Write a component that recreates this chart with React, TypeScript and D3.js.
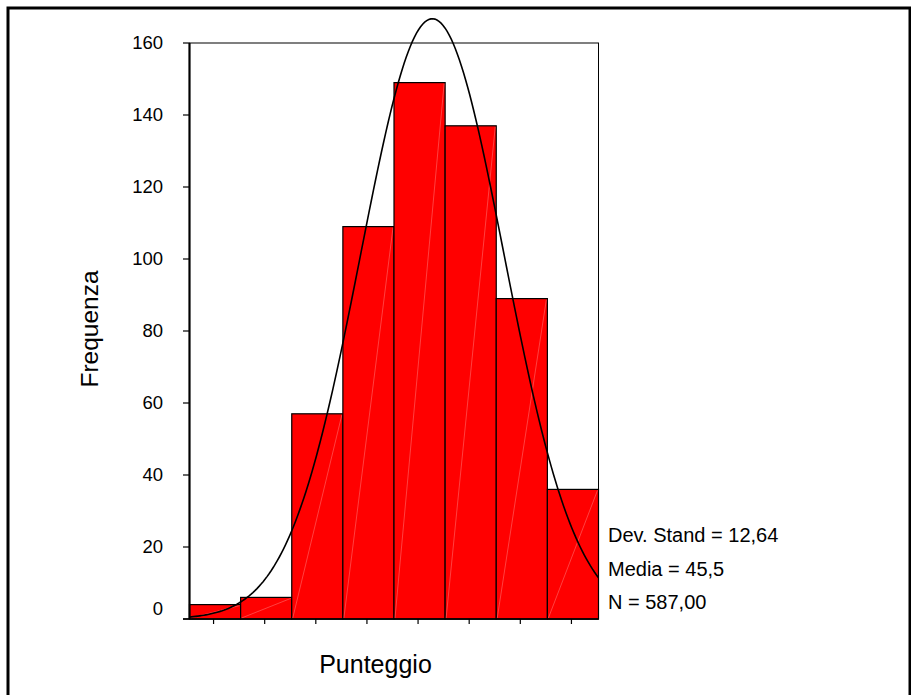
import React from "react";
import * as d3 from "d3";

const FREQUENCIES = [4, 6, 57, 109, 149, 137, 89, 36];
const BIN_START = 2.75;
const BIN_WIDTH = 9;
const Y_TICKS = [0, 20, 40, 60, 80, 100, 120, 140, 160];
const STATS = ["Dev. Stand = 12,64", "Media = 45,5", "N = 587,00"];
const MEAN = 45.5;
const SD = 12.64;
const N = 587;

const W = 911;
const H = 695;
const FONT = "Arial, 'Liberation Sans', sans-serif";

export default function App() {
  const left = 189.5;
  const right = 598.5;
  const top = 43;
  const bottom = 619;

  const x = d3
    .scaleLinear()
    .domain([BIN_START, BIN_START + FREQUENCIES.length * BIN_WIDTH])
    .range([left, right]);
  const y = d3.scaleLinear().domain([0, 160]).range([bottom, top]);

  const bins = FREQUENCIES.map((v, i) => ({
    x0: BIN_START + i * BIN_WIDTH,
    x1: BIN_START + (i + 1) * BIN_WIDTH,
    v,
  }));

  const xs = d3.range(0, 201).map(
    (i) => BIN_START + (i / 200) * FREQUENCIES.length * BIN_WIDTH
  );
  const normal = (v: number) =>
    ((N * BIN_WIDTH) / (SD * Math.sqrt(2 * Math.PI))) *
    Math.exp(-((v - MEAN) ** 2) / (2 * SD * SD));
  const line = d3
    .line<number>()
    .x((d) => x(d))
    .y((d) => y(normal(d)))
    .curve(d3.curveLinear);

  return (
    <svg
      width={W}
      height={H}
      style={{ position: "absolute", left: 0, top: 0, background: "#fff" }}
      fontFamily={FONT}
    >
      <rect x={0} y={0} width={W} height={H} fill="#fff" />
      <rect
        x={8}
        y={8}
        width={902}
        height={H + 20}
        fill="none"
        stroke="#000"
        strokeWidth={3}
      />
      {/* plot frame */}
      <rect
        x={left}
        y={top}
        width={right - left}
        height={bottom - top}
        fill="#fff"
        stroke="#000"
        strokeWidth={1}
      />
      {/* bars */}
      {bins.map((b, i) => (
        <g key={i}>
          <rect
            x={x(b.x0)}
            y={y(b.v)}
            width={x(b.x1) - x(b.x0)}
            height={bottom - y(b.v)}
            fill="#ff0000"
            stroke="#000"
            strokeWidth={1.2}
          />
          <line
            x1={x(b.x0) + 1}
            y1={bottom - 1}
            x2={x(b.x1) - 1}
            y2={y(b.v) + 1}
            stroke="#ff9a9a"
            strokeWidth={0.6}
            opacity={0.7}
          />
        </g>
      ))}
      {/* normal curve */}
      <path d={line(xs) || ""} fill="none" stroke="#000" strokeWidth={1.6} />
      {/* y axis */}
      <line x1={left} y1={top} x2={left} y2={bottom} stroke="#000" strokeWidth={2.2} />
      <line x1={183} y1={bottom} x2={right} y2={bottom} stroke="#000" strokeWidth={1.5} />
      {Y_TICKS.map((t) => (
        <g key={t}>
          <line x1={183} x2={left} y1={y(t)} y2={y(t)} stroke="#000" strokeWidth={1.2} />
          <text
            x={163}
            y={t === 0 ? y(t) - 10 : y(t)}
            dy="0.35em"
            textAnchor="end"
            fontSize={18.5}
            fill="#000"
          >
            {t}
          </text>
        </g>
      ))}
      {/* x ticks at bin centers */}
      {bins.map((b, i) => {
        const cx = x((b.x0 + b.x1) / 2) - 1.5;
        return (
          <line key={i} x1={cx} x2={cx} y1={bottom} y2={bottom + 5} stroke="#000" strokeWidth={1.2} />
        );
      })}
      {/* axis titles */}
      <text
        transform={`translate(98,329) rotate(-90)`}
        textAnchor="middle"
        fontSize={24.5}
        fill="#000"
      >
        Frequenza
      </text>
      <text x={375.5} y={673} textAnchor="middle" fontSize={25} fill="#000">
        Punteggio
      </text>
      {/* stats */}
      {STATS.map((s, i) => (
        <text key={i} x={608} y={542 + i * 33.5} fontSize={20} fill="#000">
          {s}
        </text>
      ))}
    </svg>
  );
}
